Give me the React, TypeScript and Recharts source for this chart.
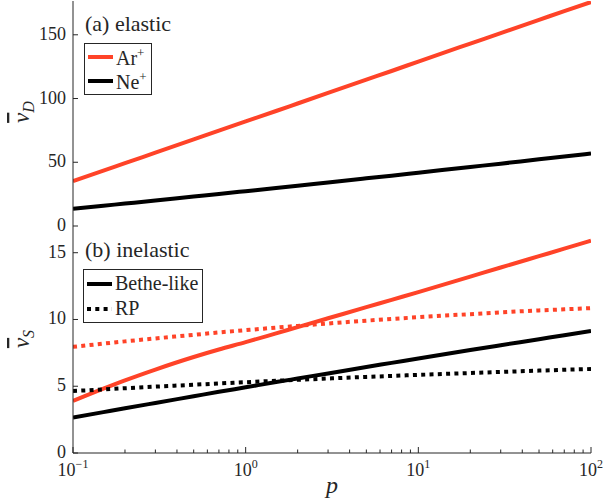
import React from 'react';
import { LineChart, Line, XAxis, YAxis } from 'recharts';

// pressure parameter p (log axis)
const P = [0.1, 0.15, 0.2, 0.3, 0.5, 0.7, 1, 1.5, 2, 3, 5, 7, 10, 20, 30, 50, 70, 100];

// (a) elastic
const arElastic = [35.2, 43.4, 49.3, 57.5, 67.9, 74.8, 82, 90.2, 96.1, 104.4, 114.8, 121.6, 129, 143.1, 151.3, 161.7, 168.6, 175.7];
const neElastic = [13.5, 15.9, 17.6, 20.0, 23.1, 25.1, 27.3, 29.8, 31.6, 34.2, 37.4, 39.5, 41.8, 46.3, 48.9, 52.3, 54.5, 56.9];

// (b) inelastic
const arBethe = [3.9, 4.82, 5.44, 6.25, 7.19, 7.75, 8.3, 8.96, 9.43, 10.09, 10.92, 11.47, 12.05, 13.21, 13.89, 14.74, 15.3, 15.9];
const arRP = [7.95, 8.19, 8.36, 8.58, 8.85, 9.03, 9.2, 9.39, 9.52, 9.7, 9.91, 10.04, 10.17, 10.4, 10.53, 10.68, 10.76, 10.85];
const neBethe = [2.65, 3.06, 3.35, 3.75, 4.25, 4.58, 4.92, 5.31, 5.58, 5.96, 6.44, 6.75, 7.08, 7.71, 8.07, 8.52, 8.82, 9.13];
const neRP = [4.64, 4.76, 4.85, 4.97, 5.11, 5.21, 5.3, 5.41, 5.48, 5.58, 5.7, 5.77, 5.85, 5.99, 6.07, 6.17, 6.23, 6.29];

const X_MAJOR = [0.1, 1, 10, 100];
const X_EXP = ['\u22121', '0', '1', '2'];
const X_TICKS = [
  0.1, 0.2, 0.3, 0.4, 0.5, 0.6, 0.7, 0.8, 0.9,
  1, 2, 3, 4, 5, 6, 7, 8, 9,
  10, 20, 30, 40, 50, 60, 70, 80, 90, 100,
];
const TOP_Y_TICKS = [0, 50, 100, 150];
const BOT_Y_TICKS = [0, 5, 10, 15];

const RED = '#ff4328';
const INK = '#262626';
const FONT = '"Liberation Serif", "DejaVu Serif", "Noto Serif", serif';
const DOTS = '4 4.3';

const topData = P.map((p, i) => ({ p, ar: arElastic[i], ne: neElastic[i] }));
const botData = P.map((p, i) => ({ p, arBethe: arBethe[i], arRP: arRP[i], neBethe: neBethe[i], neRP: neRP[i] }));

const XTick = (props: any) => {
  const { x, y, payload, side, labels } = props;
  const major = X_MAJOR.indexOf(payload.value);
  const len = major >= 0 ? 6 : 3.5;
  const dir = side === 'bottom' ? -1 : 1;
  return (
    <g>
      <line x1={x} x2={x} y1={y} y2={y + dir * len} stroke={INK} strokeWidth={1} />
      {labels && major >= 0 && (
        <text x={x} y={y + 23} textAnchor="middle" fontFamily={FONT} fontSize={18} fill={INK}>
          10<tspan dy={-8} fontSize={12}>{X_EXP[major]}</tspan>
        </text>
      )}
    </g>
  );
};

const YTick = (props: any) => {
  const { x, y, payload, side } = props;
  const dir = side === 'left' ? 1 : -1;
  return (
    <g>
      <line x1={x} x2={x + dir * 5} y1={y} y2={y} stroke={INK} strokeWidth={1} />
      {side === 'left' && (
        <text x={x - 7} y={y + 5} textAnchor="end" fontFamily={FONT} fontSize={18} fill={INK}>
          {String(payload.value)}
        </text>
      )}
    </g>
  );
};

const YTitle = ({ sub, cy }: { sub: string; cy: number }) => (
  <g transform={`rotate(-90 22 ${cy})`}>
    <text x={22} y={cy + 7} textAnchor="middle" fontFamily={FONT} fontSize={23} fontStyle="italic" fill={INK}>
      <tspan style={{ textDecoration: 'overline' }}>{'\u03BD'}</tspan>
      <tspan fontSize={16} dy={5}>{sub}</tspan>
    </text>
  </g>
);

const LegendBox = ({ items, left, top, row }: { items: { name: string; color: string; dash?: string }[]; left: number; top: number; row: number }) => (
  <div
    style={{
      position: 'absolute',
      left,
      top,
      border: `1px solid ${INK}`,
      background: '#fff',
      padding: '1px 4px 1px 3px',
      fontFamily: FONT,
      fontSize: 20,
      color: INK,
    }}
  >
    {items.map((it) => (
      <div key={it.name} style={{ display: 'flex', alignItems: 'center', height: row }}>
        <svg width={25} height={6} style={{ marginRight: 3 }}>
          <line x1={0} x2={25} y1={3} y2={3} stroke={it.color} strokeWidth={4} strokeDasharray={it.dash} />
        </svg>
        <span dangerouslySetInnerHTML={{ __html: it.name }} />
      </div>
    ))}
  </div>
);

const PanelLabel = ({ text, left, top }: { text: string; left: number; top: number }) => (
  <div style={{ position: 'absolute', left, top, fontFamily: FONT, fontSize: 22, color: INK, lineHeight: 1 }}>{text}</div>
);

const axisX = {
  dataKey: 'p',
  type: 'number' as const,
  scale: 'log' as const,
  domain: [0.1, 100],
  allowDataOverflow: true,
  ticks: X_TICKS,
  interval: 0,
  tickSize: 0,
  tickMargin: 0,
  stroke: INK,
};

const App: React.FC = () => {
  return (
    <div style={{ position: 'absolute', left: 0, top: 0, width: 603, height: 504, background: '#fff' }}>
      <div style={{ position: 'absolute', left: 0, top: 0 }}>
        {/* taller than its plot so the "0" label below the shared border is not clipped */}
        <LineChart width={603} height={242} data={topData} margin={{ top: 1, right: 12, left: 0, bottom: 16 }}>
          <XAxis {...axisX} height={0} tick={<XTick side="bottom" labels={false} />} />
          <XAxis {...axisX} xAxisId="top" orientation="top" height={0} tick={<XTick side="top" labels={false} />} />
          <YAxis
            type="number"
            domain={[0, 176.5]}
            allowDataOverflow
            ticks={TOP_Y_TICKS}
            interval={0}
            width={73}
            tickSize={0}
            tickMargin={0}
            stroke={INK}
            tick={<YTick side="left" />}
            label={{ content: () => <YTitle sub="D" cy={112} /> }}
          />
          <YAxis
            yAxisId="right"
            orientation="right"
            type="number"
            domain={[0, 176.5]}
            allowDataOverflow
            ticks={TOP_Y_TICKS}
            interval={0}
            width={0}
            tickSize={0}
            tickMargin={0}
            stroke={INK}
            tick={<YTick side="right" />}
          />
          <Line type="monotone" dataKey="ar" stroke={RED} strokeWidth={4} dot={false} isAnimationActive={false} />
          <Line type="monotone" dataKey="ne" stroke="#000" strokeWidth={4} dot={false} isAnimationActive={false} />
        </LineChart>
      </div>
      <div style={{ position: 'absolute', left: 0, top: 226 }}>
        <LineChart width={603} height={278} data={botData} margin={{ top: 0, right: 12, left: 0, bottom: 0 }}>
          <XAxis
            {...axisX}
            height={51}
            tick={<XTick side="bottom" labels />}
            label={{
              content: () => (
                <text x={332} y={267} textAnchor="middle" fontFamily={FONT} fontSize={24} fontStyle="italic" fill={INK}>
                  p
                </text>
              ),
            }}
          />
          <XAxis {...axisX} xAxisId="top" orientation="top" height={0} tick={<XTick side="top" labels={false} />} />
          <YAxis
            type="number"
            domain={[0, 17]}
            allowDataOverflow
            ticks={BOT_Y_TICKS}
            interval={0}
            width={73}
            tickSize={0}
            tickMargin={0}
            stroke={INK}
            tick={<YTick side="left" />}
            label={{ content: () => <YTitle sub="S" cy={113} /> }}
          />
          <YAxis
            yAxisId="right"
            orientation="right"
            type="number"
            domain={[0, 17]}
            allowDataOverflow
            ticks={BOT_Y_TICKS}
            interval={0}
            width={0}
            tickSize={0}
            tickMargin={0}
            stroke={INK}
            tick={<YTick side="right" />}
          />
          <Line type="monotone" dataKey="arBethe" stroke={RED} strokeWidth={4} dot={false} isAnimationActive={false} />
          <Line type="monotone" dataKey="arRP" stroke={RED} strokeWidth={4} strokeDasharray={DOTS} dot={false} isAnimationActive={false} />
          <Line type="monotone" dataKey="neBethe" stroke="#000" strokeWidth={4} dot={false} isAnimationActive={false} />
          <Line type="monotone" dataKey="neRP" stroke="#000" strokeWidth={4} strokeDasharray={DOTS} dot={false} isAnimationActive={false} />
        </LineChart>
      </div>
      <PanelLabel text="(a) elastic" left={85} top={13} />
      <LegendBox
        left={84}
        top={43}
        row={24}
        items={[
          { name: 'Ar<sup style="font-size:13px">+</sup>', color: RED },
          { name: 'Ne<sup style="font-size:13px">+</sup>', color: '#000' },
        ]}
      />
      <PanelLabel text="(b) inelastic" left={85} top={239} />
      <LegendBox
        left={83}
        top={269}
        row={25}
        items={[
          { name: 'Bethe-like', color: '#000' },
          { name: 'RP', color: '#000', dash: DOTS },
        ]}
      />
    </div>
  );
};

export default App;
